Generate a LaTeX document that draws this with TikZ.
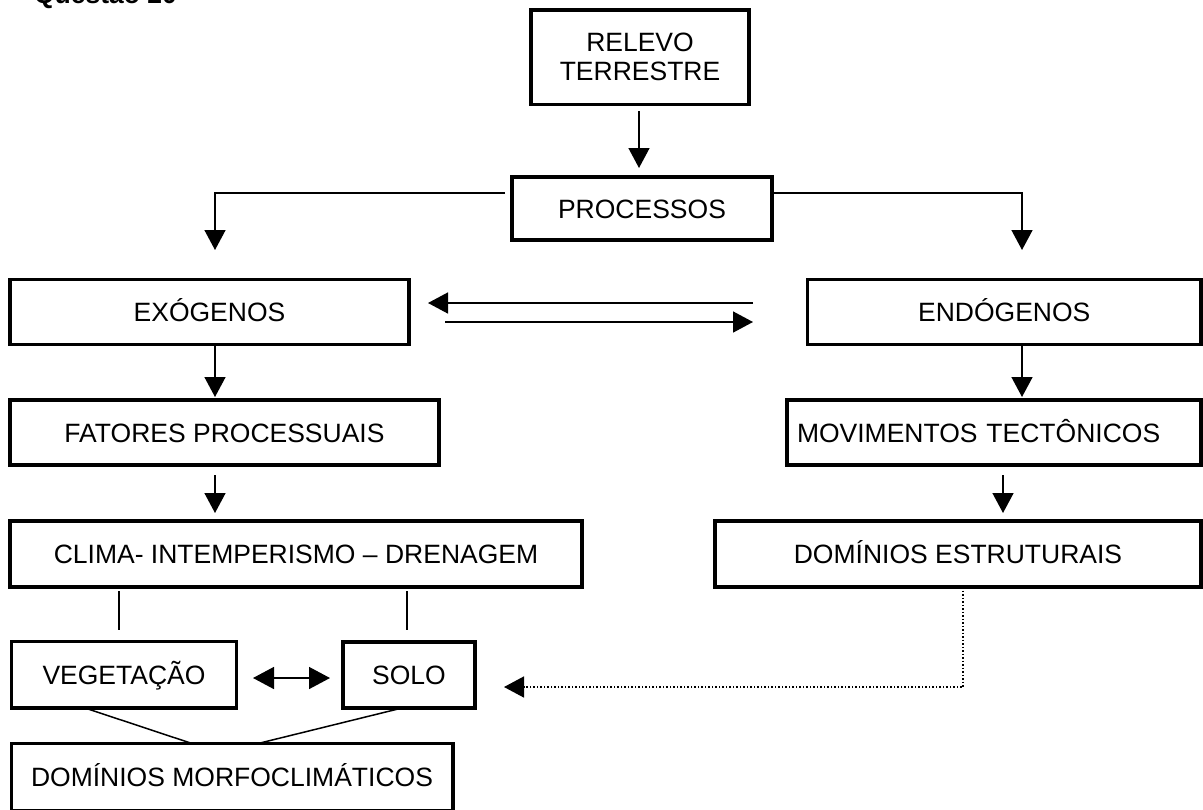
\documentclass[tikz,border=0pt]{standalone}
\usepackage{fontspec}
\setmainfont{Liberation Sans}
\usetikzlibrary{arrows.meta,calc}
\newcommand\mainfs{\fontsize{13.25pt}{14.5pt}\selectfont}
\begin{document}
\begin{tikzpicture}[x=0.5pt,y=-0.5pt,
  box/.style={draw, line width=1.75pt, inner sep=0pt, outer sep=0pt, font=\mainfs},
  captext/.style={text height=9.5pt, text depth=0pt},
  conn/.style={line width=0.75pt},
  arr/.style={conn, -{Triangle[length=10pt,width=10.5pt]}},
  arrboth/.style={conn, {Triangle[length=10.5pt,width=11pt]}-{Triangle[length=10.5pt,width=11pt]}},
  dotarr/.style={conn, dash pattern=on 0.75pt off 1pt, -{Triangle[length=10pt,width=10.5pt]}}
]
\useasboundingbox (0,0) rectangle (1203,809);

\node[anchor=base west, font=\bfseries\mainfs] (q) at (27,3) {Questão 20};

\node[box, align=center, minimum width=109pt, minimum height=47.25pt] (relevo) at (640,57) {RELEVO\\TERRESTRE};
\node[box, captext, minimum width=130pt, minimum height=31.5pt] (proc) at (642,208.5) {PROCESSOS};
\node[box, captext, minimum width=199.5pt, minimum height=32.5pt] (exo) at (209.5,312) {EXÓGENOS};
\node[box, captext, minimum width=196.75pt, minimum height=32.5pt] (endo) at (1004.25,312) {ENDÓGENOS};
\node[box, captext, minimum width=214.5pt, minimum height=32.5pt] (fat) at (224.5,432.5) {FATORES PROCESSUAIS};
\node[box, captext, text width=197pt, align=left, minimum width=207pt, minimum height=32.5pt] (mov) at (994,432.5) {MOVIMENTOS TECTÔNICOS};
\node[box, captext, minimum width=286pt, minimum height=33pt] (clima) at (296,554) {CLIMA- INTEMPERISMO – DRENAGEM};
\node[box, captext, minimum width=243pt, minimum height=33pt] (dom) at (958,554) {DOMÍNIOS ESTRUTURAIS};
\node[box, captext, minimum width=112.5pt, minimum height=33.25pt] (veg) at (124,674.75) {VEGETAÇÃO};
\node[box, captext, minimum width=66pt, minimum height=33pt] (solo) at (409,675) {SOLO};
\node[box, captext, minimum width=220.75pt, minimum height=33.75pt] (morfo) at (232,777.25) {DOMÍNIOS MORFOCLIMÁTICOS};

% connectors
\draw[arr] ($(relevo.south)+(-1,7)$) -- ($(proc.north)+(-3,-9)$);
\draw[arr] ($(proc.north west)+(-7,16)$) -| ($(exo.north)+(5.5,-29.5)$);
\draw[arr] ($(proc.north east)+(0,16)$) -| ($(endo.north)+(17.75,-29.5)$);
\draw[arr] ($(endo.west)+(-54.5,-9)$) -- ($(exo.east)+(19,-9)$);
\draw[arr] ($(exo.east)+(36,10)$) -- ($(endo.west)+(-54.5,10)$);
\draw[arr] ($(exo.south)+(5.5,0)$) -- ($(fat.north)+(-9.5,-3)$);
\draw[arr] ($(fat.south)+(-9.5,10)$) -- ($(clima.north)+(-81,-8)$);
\draw[arr] ($(endo.south)+(17.75,0)$) -- ($(mov.north)+(28,-3)$);
\draw[arr] ($(mov.south)+(9,10)$) -- ($(dom.north)+(45,-8)$);
\draw[dotarr] ($(dom.south)+(5,0)$) |- ($(solo.east)+(29,12)$);
\draw[conn] ($(clima.south)+(-177,4)$) -- ($(veg.north)+(-5,-11.5)$);
\draw[conn] ($(clima.south)+(111,4)$) -- ($(solo.north)+(-2,-12)$);
\draw[arrboth] ($(veg.east)+(16.5,3.25)$) -- ($(solo.west)+(-13,3)$);
\draw[conn] ($(veg.south)+(-39,0)$) -- ($(morfo.north)+(-40,0)$);
\draw[conn] ($(solo.south)+(-7,0)$) -- ($(morfo.north)+(26,0)$);
\end{tikzpicture}
\end{document}
